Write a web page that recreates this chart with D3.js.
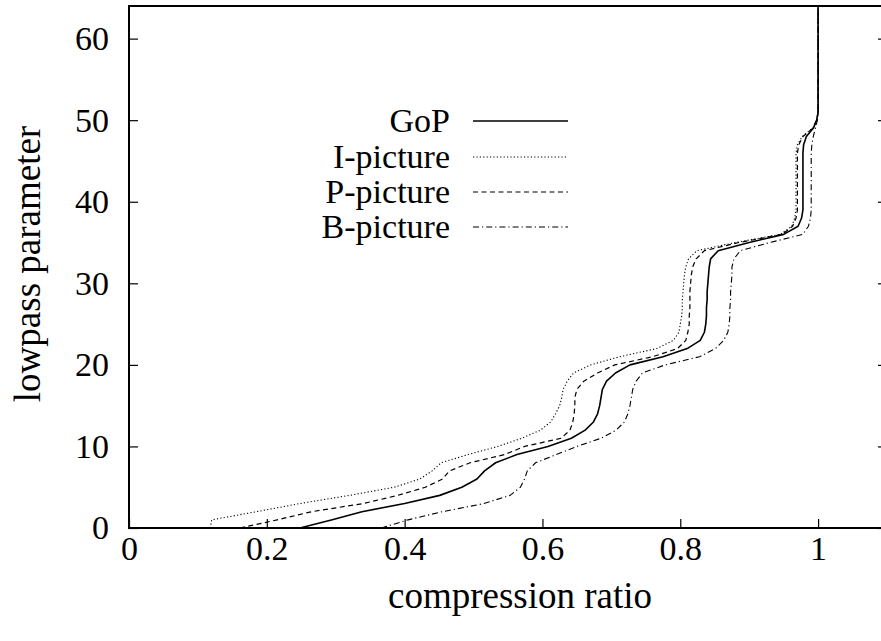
<!DOCTYPE html>
<html>
<head>
<meta charset="utf-8">
<script src="https://cdn.jsdelivr.net/npm/d3@7"></script>
<style>
  html, body { margin: 0; padding: 0; background: #fff; }
  svg { display: block; }
  text { font-family: "Liberation Serif", "Times New Roman", serif; fill: #000; }
</style>
</head>
<body>
<svg id="chart" width="881" height="641"></svg>
<script>
// Lowpass parameter levels (y) and the compression ratio reached at each level (x)
const lowpass = d3.range(0, 65);

const gopRatio = [
  0.248, 0.295, 0.338, 0.400, 0.451, 0.483, 0.505, 0.516, 0.532, 0.563,
  0.608, 0.642, 0.662, 0.674, 0.680, 0.683, 0.685, 0.687, 0.693, 0.706,
  0.727, 0.775, 0.810, 0.829, 0.835, 0.837, 0.838, 0.838, 0.839, 0.839,
  0.840, 0.841, 0.842, 0.844, 0.855, 0.900, 0.950, 0.971, 0.976, 0.978,
  0.978, 0.978, 0.978, 0.978, 0.978, 0.978, 0.978, 0.979, 0.983, 0.993,
  0.998, 1.000, 1.000, 1.000, 1.000, 1.000, 1.000, 1.000, 1.000, 1.000,
  1.000, 1.000, 1.000, 1.000, 1.000
];

const iPicRatio = [
  0.118, 0.120, 0.185, 0.248, 0.320, 0.385, 0.422, 0.440, 0.453, 0.492,
  0.535, 0.570, 0.597, 0.612, 0.619, 0.625, 0.628, 0.630, 0.636, 0.645,
  0.670, 0.712, 0.766, 0.790, 0.798, 0.800, 0.802, 0.803, 0.803, 0.804,
  0.805, 0.806, 0.808, 0.812, 0.824, 0.880, 0.945, 0.962, 0.966, 0.968,
  0.968, 0.968, 0.968, 0.968, 0.968, 0.968, 0.968, 0.970, 0.977, 0.992,
  0.998, 1.000, 1.000, 1.000, 1.000, 1.000, 1.000, 1.000, 1.000, 1.000,
  1.000, 1.000, 1.000, 1.000, 1.000
];

const pPicRatio = [
  0.161, 0.215, 0.265, 0.340, 0.390, 0.430, 0.455, 0.465, 0.495, 0.545,
  0.574, 0.627, 0.640, 0.644, 0.646, 0.647, 0.647, 0.650, 0.660, 0.680,
  0.705, 0.760, 0.796, 0.808, 0.811, 0.813, 0.813, 0.814, 0.814, 0.814,
  0.815, 0.816, 0.818, 0.823, 0.835, 0.885, 0.948, 0.963, 0.968, 0.970,
  0.970, 0.970, 0.970, 0.970, 0.970, 0.970, 0.970, 0.972, 0.978, 0.992,
  0.998, 1.000, 1.000, 1.000, 1.000, 1.000, 1.000, 1.000, 1.000, 1.000,
  1.000, 1.000, 1.000, 1.000, 1.000
];

const bPicRatio = [
  0.366, 0.405, 0.455, 0.515, 0.553, 0.568, 0.574, 0.578, 0.590, 0.620,
  0.650, 0.685, 0.707, 0.719, 0.724, 0.727, 0.729, 0.731, 0.736, 0.745,
  0.778, 0.828, 0.851, 0.863, 0.869, 0.871, 0.872, 0.872, 0.873, 0.873,
  0.874, 0.875, 0.875, 0.878, 0.887, 0.930, 0.978, 0.986, 0.989, 0.990,
  0.990, 0.990, 0.990, 0.990, 0.990, 0.990, 0.990, 0.991, 0.993, 0.996,
  0.999, 1.000, 1.000, 1.000, 1.000, 1.000, 1.000, 1.000, 1.000, 1.000,
  1.000, 1.000, 1.000, 1.000, 1.000
];

const seriesNames = ["GoP", "I-picture", "P-picture", "B-picture"];
const seriesValues = [gopRatio, iPicRatio, pPicRatio, bPicRatio];
const seriesDash = [null, "1.2,2.2", "5,3.5", "6,3,1.2,3"];
const seriesWidth = [1.6, 1.1, 1.2, 1.1];

const xTicks = [0, 0.2, 0.4, 0.6, 0.8, 1];
const yTicks = [0, 10, 20, 30, 40, 50, 60];

const svg = d3.select("#chart");

const x = d3.scaleLinear().domain([0, 1.1]).range([129, 887]);
const y = d3.scaleLinear().domain([0, 64]).range([528, 6]);

const tickFont = 34;
const titleFont = 37;

// frame
svg.append("rect")
  .attr("x", x(0)).attr("y", y(64))
  .attr("width", x(1.1) - x(0)).attr("height", y(0) - y(64))
  .attr("fill", "none").attr("stroke", "#000").attr("stroke-width", 2);

// bottom axis: inward ticks, labels below
const xAxis = d3.axisBottom(x).tickValues(xTicks).tickSize(-9).tickPadding(8)
  .tickFormat(d => d === 0 ? "0" : (d === 1 ? "1" : d3.format(".1f")(d)));
const gx = svg.append("g").attr("transform", `translate(0,${y(0)})`).call(xAxis);
gx.select(".domain").remove();
gx.selectAll(".tick line").attr("stroke", "#000").attr("stroke-width", 1.2);
gx.selectAll(".tick text").attr("font-size", tickFont)
  .attr("font-family", "Liberation Serif, serif").attr("fill", "#000");

// left axis: inward ticks
const yAxis = d3.axisLeft(y).tickValues(yTicks).tickSize(-9).tickPadding(20);
const gy = svg.append("g").attr("transform", `translate(${x(0)},0)`).call(yAxis);
gy.select(".domain").remove();
gy.selectAll(".tick line").attr("stroke", "#000").attr("stroke-width", 1.2);
gy.selectAll(".tick text").attr("font-size", tickFont)
  .attr("font-family", "Liberation Serif, serif").attr("fill", "#000");

// right mirror ticks
const gr = svg.append("g").attr("transform", `translate(${x(1.1)},0)`)
  .call(d3.axisRight(y).tickValues(yTicks).tickSize(-9).tickFormat(""));
gr.select(".domain").remove();
gr.selectAll(".tick line").attr("stroke", "#000").attr("stroke-width", 1.2);

// axis titles
svg.append("text")
  .attr("x", 520).attr("y", 608)
  .attr("text-anchor", "middle").attr("font-size", titleFont)
  .text("compression ratio");

svg.append("text")
  .attr("transform", `translate(40,264) rotate(-90)`)
  .attr("text-anchor", "middle").attr("font-size", titleFont)
  .text("lowpass parameter");

// curves
const line = d3.line()
  .x(d => x(d[0]))
  .y(d => y(d[1]));

seriesValues.forEach((vals, i) => {
  const pts = lowpass.map((l, k) => [vals[k], l]);
  svg.append("path")
    .datum(pts)
    .attr("d", line)
    .attr("fill", "none")
    .attr("stroke", "#000")
    .attr("stroke-width", seriesWidth[i])
    .attr("stroke-dasharray", seriesDash[i])
    .attr("stroke-linejoin", "round");
});

// legend
const legendY = [121, 157, 192, 227];
seriesNames.forEach((name, i) => {
  svg.append("text")
    .attr("x", 450).attr("y", legendY[i])
    .attr("dy", "0.33em")
    .attr("text-anchor", "end").attr("font-size", tickFont)
    .text(name);
  svg.append("line")
    .attr("x1", 473).attr("x2", 568)
    .attr("y1", legendY[i]).attr("y2", legendY[i])
    .attr("stroke", "#000")
    .attr("stroke-width", seriesWidth[i])
    .attr("stroke-dasharray", seriesDash[i]);
});
</script>
</body>
</html>
